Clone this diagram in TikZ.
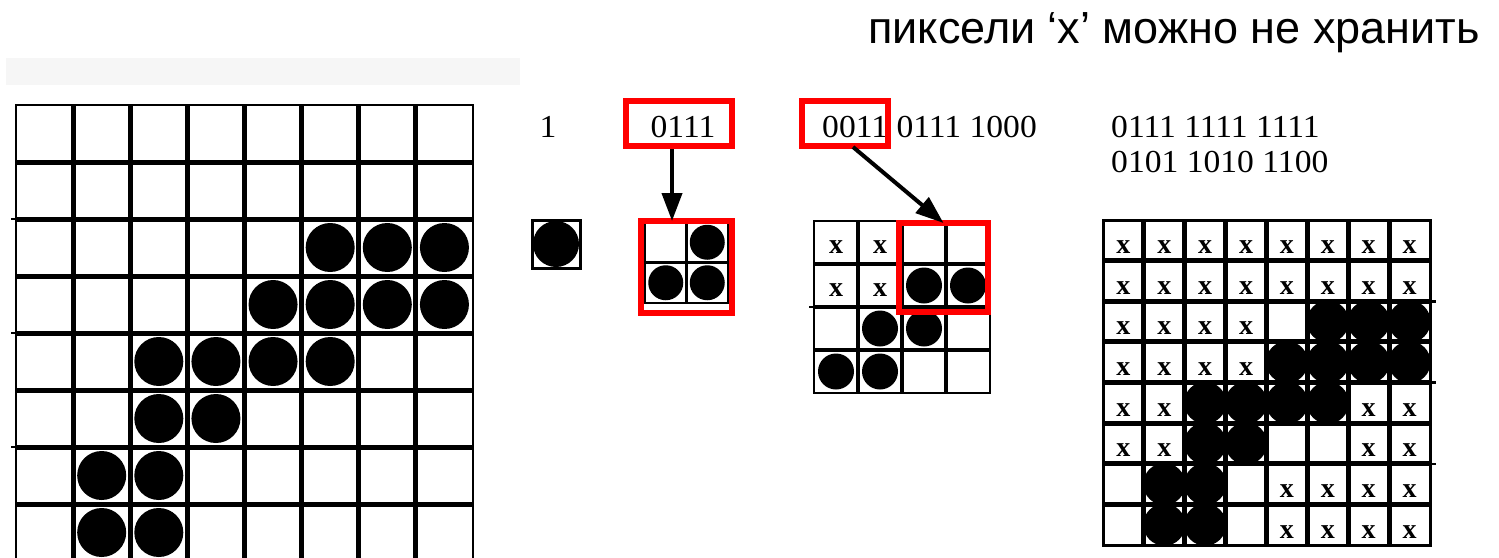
\documentclass[tikz,border=0pt]{standalone}
\usepackage{graphicx}
\usepackage{fontspec}
\setmainfont{Liberation Serif}
\newfontfamily\sansru{Liberation Sans}
\usetikzlibrary{arrows.meta}
\definecolor{boxred}{RGB}{255,0,0}
\definecolor{bandgray}{RGB}{246,246,246}
\newcommand\bitsfont{\fontsize{32pt}{36pt}\selectfont}
\newcommand\widebits[1]{\scalebox{1.05}[1]{#1}}
\tikzset{
  bits/.style={inner sep=0pt, font=\bitsfont},
  xmark/.style={inner sep=0pt, font=\bfseries\fontsize{28pt}{30pt}\selectfont},
  redbox/.style={draw=boxred, line width=6pt, inner sep=0pt, outer sep=0pt},
  ptr/.style={line width=4pt, -{Triangle[width=20pt,length=28pt]}},
  heavy/.style={line width=5pt},
  heavier/.style={line width=5pt},
  medium/.style={line width=3.5pt},
  frame/.style={line width=2.5pt},
  title/.style={inner sep=0pt, font=\sansru\fontsize{45pt}{50pt}\selectfont},
}
\begin{document}
\begin{tikzpicture}[x=1pt,y=-1pt]
\useasboundingbox[fill=white] (0,0) rectangle (1499,557);
\fill[bandgray] (6,58) rectangle (520,85);

% ---------- left 8x8 grid ----------
\foreach \i in {1,...,7}{
  \draw[heavy] ({16+\i*57.125},105) -- ({16+\i*57.125},{105+8*57});
  \draw[heavy] (16,{105+\i*57}) -- (473,{105+\i*57});
}
\draw[frame] (16,{105+8*57}) -- (16,105) -- (473,105) -- (473,{105+8*57});
\foreach \r in {2,4,6}{ \draw[frame] (11,{105+\r*57}) -- (16,{105+\r*57}); }
\foreach \c/\r in {5/2,6/2,7/2,4/3,5/3,6/3,7/3,2/4,3/4,4/4,5/4,2/5,3/5,1/6,2/6,1/7,2/7}{
  \fill ({16+(\c+0.5)*57.125},{105+(\r+0.5)*57}) circle (24.5);
}

% ---------- bit strings ----------
\node[bits] (one) at (548,127) {\widebits{1}};
\node[bits] (b1) at (683,127) {\widebits{0111}};
\node[bits, anchor=west] (b2) at (822,127) {\widebits{0011 0111 1000}};
\node[bits, anchor=west] (b3) at (1111,127) {\widebits{0111 1111 1111}};
\node[bits, anchor=west] (b4) at (1111,162) {\widebits{0101 1010 1100}};

% ---------- single cell ----------
\draw[line width=3pt] (532,220) rectangle (580,268);
\fill (556,244) circle (23);

% ---------- 2x2 grid ----------
\draw[medium] (686.5,222) -- (686.5,303);
\draw[medium] (645,262.5) -- (728,262.5);
\draw[frame] (645,222) rectangle (728,303);
\foreach \c/\r in {1/0,0/1,1/1}{
  \fill ({645+(\c+0.5)*41.5},{222+(\r+0.5)*40.5}) circle (17.5);
}

% ---------- 4x4 grid ----------
\foreach \i in {1,2,3}{
  \draw[medium] ({814+\i*44},221) -- ({814+\i*44},393);
  \draw[medium] (814,{221+\i*43}) -- (990,{221+\i*43});
}
\draw[frame] (814,221) rectangle (990,393);
\draw[frame] (809,307) -- (814,307);
\foreach \c/\r in {0/0,1/0,0/1,1/1}{
  \node[xmark] (xm-\c-\r) at ({814+(\c+0.5)*44},{221+(\r+0.5)*43+5}) {x};
}
\foreach \c/\r in {2/1,3/1,1/2,2/2,0/3,1/3}{
  \fill ({814+(\c+0.5)*44},{221+(\r+0.5)*43}) circle (18);
}

% ---------- right 8x8 grid ----------
\foreach \i in {1,...,7}{
  \draw[heavier] ({1103+\i*40.875},220) -- ({1103+\i*40.875},545);
  \draw[heavier] (1103,{220+\i*40.625}) -- (1430,{220+\i*40.625});
}
\draw[line width=3pt] (1103,220) rectangle (1430,545);
\foreach \r in {2,4,6}{ \draw[frame] (1430,{220+\r*40.625}) -- (1436,{220+\r*40.625}); }
\foreach \c/\r in {0/0,1/0,2/0,3/0,4/0,5/0,6/0,7/0,
                   0/1,1/1,2/1,3/1,4/1,5/1,6/1,7/1,
                   0/2,1/2,2/2,3/2,0/3,1/3,2/3,3/3,
                   0/4,1/4,6/4,7/4,0/5,1/5,6/5,7/5,
                   4/6,5/6,6/6,7/6,4/7,5/7,6/7,7/7}{
  \node[xmark] (xr-\c-\r) at ({1103+(\c+0.5)*40.875},{220+(\r+0.5)*40.625+7}) {x};
}
\foreach \c/\r in {5/2,6/2,7/2,4/3,5/3,6/3,7/3,2/4,3/4,4/4,5/4,2/5,3/5,1/6,2/6,1/7,2/7}{
  \fill ({1103+(\c+0.5)*40.875},{220+(\r+0.5)*40.625}) circle (21);
}

% ---------- red boxes ----------
\node[redbox, minimum width=106pt, minimum height=45pt] (rb1) at (679,123.5) {};
\node[redbox, minimum width=86pt, minimum height=45pt] (rb2) at (845,123.5) {};
\node[redbox, minimum width=89pt, minimum height=89pt] (rb3) at (943.5,267.5) {};
\node[redbox, minimum width=91pt, minimum height=92pt] (rb4) at (686.5,267) {};

% ---------- arrows ----------
\coordinate (a1s) at (672,149);
\coordinate (a2s) at (853,147);
\draw[ptr] (a1s) -- (a1s |- rb4.north);
\draw[ptr] (a2s) -- (rb3.north);

% ---------- title ----------
\node[title, anchor=base east] (ttl) at (1480,43) {пиксели ‘x’ можно не хранить};
\end{tikzpicture}
\end{document}
